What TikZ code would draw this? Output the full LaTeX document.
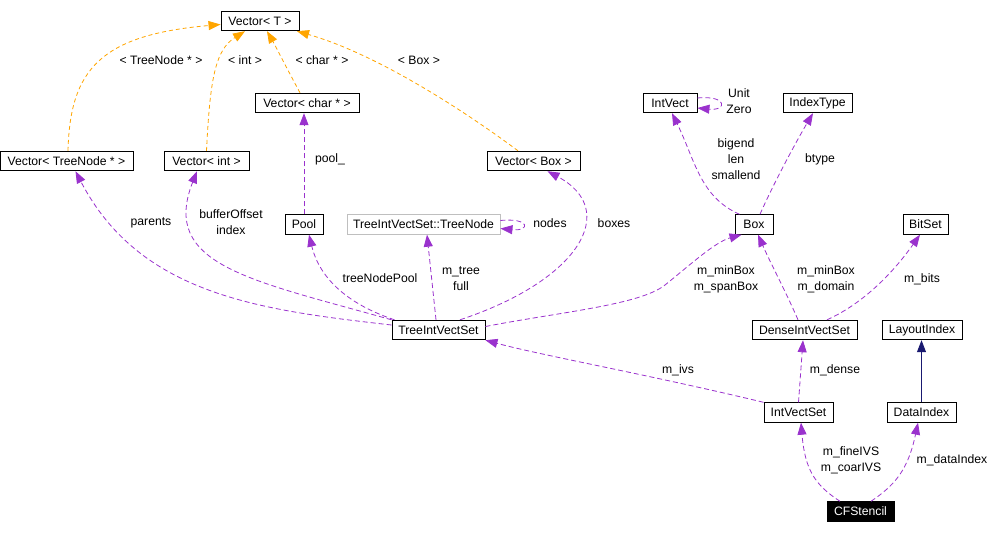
\documentclass[tikz,border=0pt]{standalone}
\usepackage{fontspec}
\setmainfont{Liberation Sans}
\usetikzlibrary{arrows.meta}
\definecolor{dpurple}{HTML}{9A32CD}
\definecolor{dorange}{HTML}{FFA500}
\definecolor{dnavy}{HTML}{191970}
\definecolor{dgray}{HTML}{BFBFBF}
\begin{document}
\begin{tikzpicture}[x=1pt,y=-1pt,
  cls/.style={draw=black, line width=0.9pt, fill=white, inner sep=0pt, minimum height=19.5pt, font=\fontsize{12.2}{14}\selectfont},
  lbl/.style={font=\fontsize{12.2}{16}\selectfont, align=center, inner sep=0pt},
  usage/.style={draw=dpurple, dash pattern=on 5pt off 3pt, line width=0.8pt, -{Triangle[length=12pt,width=9pt,fill=dpurple]}},
  tmpl/.style={draw=dorange, dash pattern=on 4pt off 3pt, line width=0.8pt, -{Triangle[length=12pt,width=9pt,fill=dorange]}},
  inh/.style={draw=dnavy, line width=0.9pt, -{Triangle[length=12pt,width=9pt,fill=dnavy]}}]
\useasboundingbox (0,0) rectangle (1006,533);

% class boxes
\node[cls, minimum width=78pt] (vt) at (260,21) {Vector< T >};
\node[cls, minimum width=133pt] (vtn) at (66.5,161) {Vector< TreeNode * >};
\node[cls, minimum width=85pt] (vint) at (206.5,161) {Vector< int >};
\node[cls, minimum width=104pt] (vchar) at (307,103) {Vector< char * >};
\node[cls, minimum width=93pt] (vbox) at (533.5,161) {Vector< Box >};
\node[cls, minimum width=54pt] (intvect) at (670,103) {IntVect};
\node[cls, minimum width=69pt] (idx) at (817.5,103) {IndexType};
\node[cls, minimum width=38pt] (pool) at (304,224.5) {Pool};
\node[cls, draw=dgray, minimum width=153pt] (tn) at (423.5,224.5) {TreeIntVectSet::TreeNode};
\node[cls, minimum width=38pt] (box) at (754,224.5) {Box};
\node[cls, minimum width=45pt] (bitset) at (925.5,224.5) {BitSet};
\node[cls, minimum width=93pt] (tivs) at (438.5,330) {TreeIntVectSet};
\node[cls, minimum width=105pt] (divs) at (804.5,330) {DenseIntVectSet};
\node[cls, minimum width=80pt] (li) at (922,330) {LayoutIndex};
\node[cls, minimum width=69pt] (ivs) at (798.5,412.5) {IntVectSet};
\node[cls, minimum width=69pt] (di) at (921.5,412.5) {DataIndex};
\node[cls, fill=black, text=white, minimum width=67pt] (cf) at (860.5,511.5) {CFStencil};

% template instantiation edges
\draw[tmpl] ([xshift=1.5pt]vtn.north) .. controls (70,70) and (100,35) .. ([yshift=-3.5pt]vt.west);
\draw[tmpl] (vint.north) .. controls (210,80) and (215,50) .. ([xshift=-15pt]vt.south);
\draw[tmpl] ([xshift=-7pt]vchar.north) .. controls (285,65) and (275,45) .. ([xshift=7pt]vt.south);
\draw[tmpl] ([xshift=-15.5pt]vbox.north) .. controls (470,115) and (380,55) .. ([xshift=37pt]vt.south);

% usage edges
\draw[usage] (pool.north) -- (pool.north |- vchar.south);
\draw[usage] ([yshift=5pt]tivs.west) .. controls (260,310) and (140,295) .. ([xshift=9pt]vtn.south);
\draw[usage] (tivs.north west) .. controls (250,280) and (160,265) .. ([xshift=-9.5pt]vint.south);
\draw[usage] ([xshift=3pt]tivs.north west) .. controls (350,305) and (320,280) .. ([xshift=5pt]pool.south);
\draw[usage] ([xshift=-2.5pt]tivs.north) -- ([xshift=3.5pt]tn.south);
\draw[usage] ([yshift=4pt]tn.east) .. controls +(30,-3) and +(30,3) .. ([yshift=-4pt]tn.east);
\draw[usage] ([xshift=21.5pt]tivs.north) .. controls (580,280) and (620,210) .. ([xshift=14pt]vbox.south);
\draw[usage] ([yshift=3.5pt]tivs.east) .. controls (560,312) and (640,305) .. (665,285) .. controls (690,265) and (715,242) .. ([xshift=7pt]box.south west);
\draw[usage] ([xshift=-6.5pt]divs.north) .. controls (785,290) and (770,262) .. ([xshift=4pt]box.south);
\draw[usage] ([xshift=22.5pt]divs.north) .. controls (860,305) and (890,277) .. ([xshift=-5.5pt]bitset.south);
\draw[usage] ([xshift=5pt]box.north west) .. controls (700,197) and (695,160) .. ([xshift=2pt]intvect.south);
\draw[usage] ([xshift=6pt]box.north) .. controls (775,180) and (800,135) .. ([xshift=-4.5pt]idx.south);
\draw[usage] ([yshift=5pt]intvect.east) .. controls +(30,-3) and +(30,3) .. ([yshift=-5pt]intvect.east);
\draw[usage] (ivs.north west) .. controls (650,375) and (540,355) .. (tivs.south east);
\draw[usage] (ivs.north) -- ([xshift=-1.5pt]divs.south);
\draw[usage] ([xshift=-20.5pt]cf.north) .. controls (815,485) and (805,470) .. ([xshift=2.5pt]ivs.south);
\draw[usage] ([xshift=10.5pt]cf.north) .. controls (895,485) and (908,470) .. ([xshift=-3.5pt]di.south);

% inheritance
\draw[inh] (di.north) -- (di.north |- li.south);

% labels
\node[lbl] (l1) at (161,60) {< TreeNode * >};
\node[lbl] (l2) at (245,60) {< int >};
\node[lbl] (l3) at (322,60) {< char * >};
\node[lbl] (l4) at (419,60) {< Box >};
\node[lbl] (l5) at (330,159) {pool\_};
\node[lbl] (l6) at (151,223) {parents};
\node[lbl] (l7) at (231,222.5) {bufferOffset\\index};
\node[lbl] (l8) at (380,278) {treeNodePool};
\node[lbl] (l9) at (461,279) {m\_tree\\full};
\node[lbl] (l10) at (550,223) {nodes};
\node[lbl] (l11) at (614,223) {boxes};
\node[lbl] (l12) at (726,279) {m\_minBox\\m\_spanBox};
\node[lbl] (l13) at (826,279) {m\_minBox\\m\_domain};
\node[lbl] (l14) at (922,279) {m\_bits};
\node[lbl] (l15) at (736,159) {bigend\\len\\smallend};
\node[lbl] (l16) at (820,159) {btype};
\node[lbl] (l17) at (739,101) {Unit\\Zero};
\node[lbl] (l18) at (678,370) {m\_ivs};
\node[lbl] (l19) at (835,370) {m\_dense};
\node[lbl] (l20) at (851,460) {m\_fineIVS\\m\_coarIVS};
\node[lbl] (l21) at (952,460) {m\_dataIndex};
\end{tikzpicture}
\end{document}
